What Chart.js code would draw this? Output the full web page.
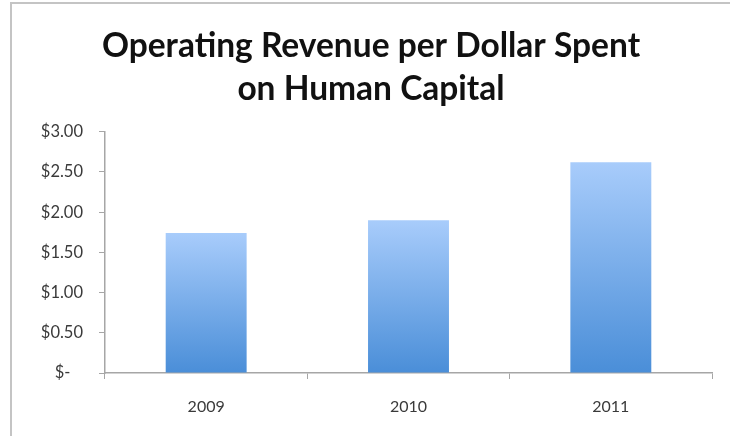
<!DOCTYPE html>
<html>
<head>
<meta charset="utf-8">
<script src="https://cdn.jsdelivr.net/npm/chart.js@4"></script>
<style>
  html, body { margin: 0; padding: 0; background: #fff; overflow: hidden; }
  #frame {
    position: absolute; left: 10px; top: 2px; width: 740px; height: 460px;
    border-top: 2px solid #c4c4c4; border-left: 2px solid #c4c4c4;
  }
  #chart { position: absolute; left: 0; top: 0; }
</style>
</head>
<body>
<div id="frame"></div>
<canvas id="chart" width="730" height="436"></canvas>
<script>
  const years = ["2009", "2010", "2011"];
  const revenuePerDollar = [1.74, 1.9, 2.62];
  const titleLines = ["Operating Revenue per Dollar Spent", "on Human Capital"];

  // each bar gets its own light-to-dark gradient, like the Excel fill
  function barFill(c) {
    const chart = c.chart;
    if (!chart.chartArea || c.raw == null) return "#7aaeea";
    const y = chart.scales.y;
    const g = chart.ctx.createLinearGradient(0, y.getPixelForValue(c.raw), 0, y.getPixelForValue(0));
    g.addColorStop(0, "#a8ccfb");
    g.addColorStop(1, "#4a8ed8");
    return g;
  }

  new Chart(document.getElementById("chart"), {
    type: "bar",
    data: {
      labels: years,
      datasets: [
        {
          data: revenuePerDollar,
          backgroundColor: barFill,
          barPercentage: 0.4,
          categoryPercentage: 1,
        },
      ],
    },
    options: {
      responsive: false,
      animation: false,
      // left padding pushes the title centre to match the original frame
      layout: { padding: { left: 30, right: 18, top: 20, bottom: 0 } },
      plugins: {
        legend: { display: false },
        tooltip: { enabled: false },
        title: {
          display: true,
          text: titleLines,
          color: "#111",
          font: { family: "Lato", size: 33.5, weight: "bold", lineHeight: 1.28 },
          padding: { top: 5, bottom: 21 },
        },
      },
      scales: {
        x: {
          grid: { drawOnChartArea: false, tickLength: 6, color: "#a6a6a6" },
          border: { color: "#a6a6a6", width: 1.5 },
          ticks: { color: "#3a3a3a", font: { family: "Lato", size: 16 }, padding: 18 },
          afterFit: (s) => { s.height = 63; },
        },
        y: {
          min: 0,
          max: 3,
          grid: { drawOnChartArea: false, tickLength: 6, color: "#a6a6a6" },
          border: { color: "#a6a6a6", width: 1.5 },
          ticks: {
            stepSize: 0.5,
            color: "#3a3a3a",
            font: { family: "Lato", size: 16.5 },
            padding: 16,
            callback: (v) => (v === 0 ? "$-   " : "$" + v.toFixed(2)),
          },
          afterFit: (s) => { s.width = 75; },
        },
      },
    },
  });
</script>
</body>
</html>
